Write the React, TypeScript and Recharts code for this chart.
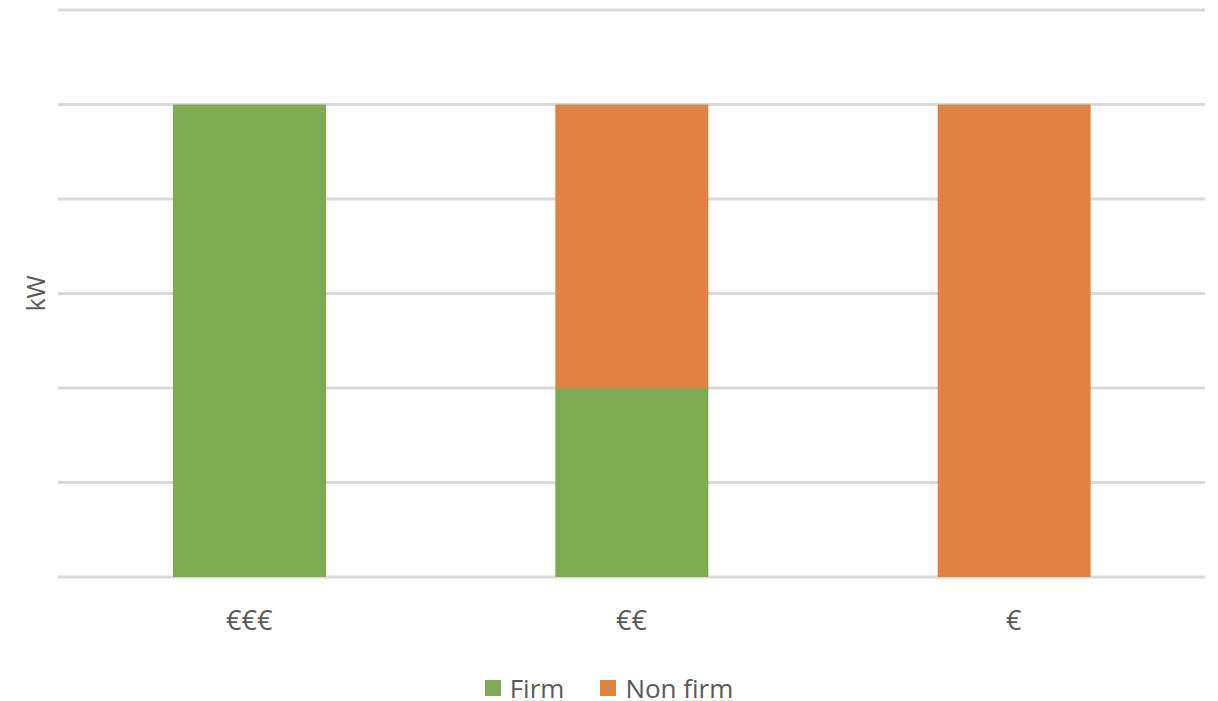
import { Bar, BarChart, CartesianGrid, XAxis, YAxis } from "recharts"

const categories = ["€€€", "€€", "€"]
const firm = [5, 2, 0]
const nonFirm = [0, 3, 5]
const yTicks = [0, 1, 2, 3, 4, 5, 6]

const data = categories.map((c, i) => ({ name: c, firm: firm[i], nonFirm: nonFirm[i] }))

const FONT = "'Open Sans', sans-serif"
const TEXT = "#595959"

const legendItems = [
  { label: "Firm", color: "#7FAA54" },
  { label: "Non firm", color: "#E08243" },
]

function KwLabel(props: any) {
  const vb = props.viewBox || {}
  const x = 35
  const y = vb.y + vb.height / 2
  return (
    <text x={x} y={y} transform={`rotate(-90 ${x} ${y})`} textAnchor="middle" dominantBaseline="central"
      fill={TEXT} fontSize={25} fontFamily={FONT}>
      kW
    </text>
  )
}

export default function App() {
  return (
    <div style={{ position: "absolute", left: 0, top: 0, width: 1218, height: 701, background: "#fff", overflow: "hidden" }}>
      <BarChart width={1218} height={701} data={data} margin={{ top: 10, right: 13, bottom: 94, left: 0 }}>
        <CartesianGrid vertical={false} stroke="#d9d9d9" strokeWidth={3} />
        <XAxis dataKey="name" height={30} axisLine={false} tickLine={false} tickSize={0} tickMargin={34}
          tick={{ fill: TEXT, fontSize: 27, fontFamily: FONT }} />
        <YAxis width={58} domain={[0, 6]} ticks={yTicks} tick={() => <g />} axisLine={false} tickLine={false}
          label={<KwLabel />} />
        <Bar dataKey="firm" name="Firm" stackId="a" fill="#7FAA54" barSize={153} isAnimationActive={false} />
        <Bar dataKey="nonFirm" name="Non firm" stackId="a" fill="#E08243" barSize={153} isAnimationActive={false} />
      </BarChart>
      <div style={{ position: "absolute", left: 0, top: 676, width: 1218, display: "flex", justifyContent: "center",
        gap: 36, fontFamily: FONT, fontSize: 26, lineHeight: "24px", color: TEXT }}>
        {legendItems.map((it) => (
          <div key={it.label} style={{ display: "flex", alignItems: "center", gap: 9 }}>
            <span style={{ width: 16, height: 16, background: it.color, display: "inline-block" }} />
            <span>{it.label}</span>
          </div>
        ))}
      </div>
    </div>
  )
}
